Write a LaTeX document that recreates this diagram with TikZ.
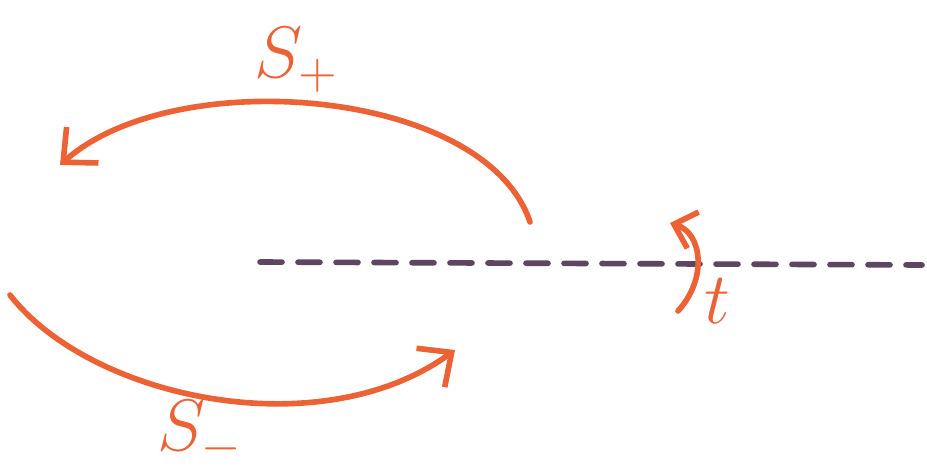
\documentclass[tikz,border=0pt]{standalone}
\usepackage{amsmath,amssymb}
\usepackage[dvipsnames]{xcolor}
\usetikzlibrary{calc,positioning,arrows.meta}
\definecolor{markerorange}{HTML}{EC6234}
\definecolor{markerpurple}{HTML}{5E4560}
\tikzset{
    >={Straight Barb[length=2.6mm,width=4.8mm]},
    swap/.style={draw=markerorange, line width=1.6pt, line cap=round, ->},
    smallswap/.style={swap, >={Straight Barb[length=2.0mm,width=3.8mm]}},
    cutline/.style={draw=markerpurple, line width=1.6pt, line cap=round,
        dash pattern=on 2.2mm off 1.6mm},
    marklabel/.style={text=markerorange, font={\fontsize{21pt}{24}\selectfont}},
}

\begin{document}
\begin{tikzpicture}
\useasboundingbox[fill=white] (0,0) rectangle (9.27,4.73);
\coordinate (cutstart) at (2.60,2.11);
\coordinate (cutend) at (9.22,2.08);
\coordinate (topstart) at (5.30,2.51);
\coordinate (topend) at (0.60,3.08);
\coordinate (botstart) at (0.10,1.78);
\coordinate (botend) at (4.55,1.23);
\coordinate (tstart) at (6.78,1.62);
\coordinate (tend) at (6.70,2.50);

\node[marklabel] (splus) at (2.97,4.13) {$S_{+}$};
\node[marklabel] (sminus) at (2.00,0.40) {$S_{-}$};
\node[marklabel] (tlab) at (7.17,1.72) {$t$};

\draw[cutline] (cutstart) -- (cutend);
\draw[swap] (topstart) .. controls (4.85,3.85) and (1.75,4.10) .. (topend);
\draw[swap] (botstart) .. controls (0.90,0.75) and (3.20,0.25) .. (botend);
\draw[smallswap] (tstart) .. controls (7.08,1.95) and (7.02,2.40) .. (tend);
\end{tikzpicture}
\end{document}
